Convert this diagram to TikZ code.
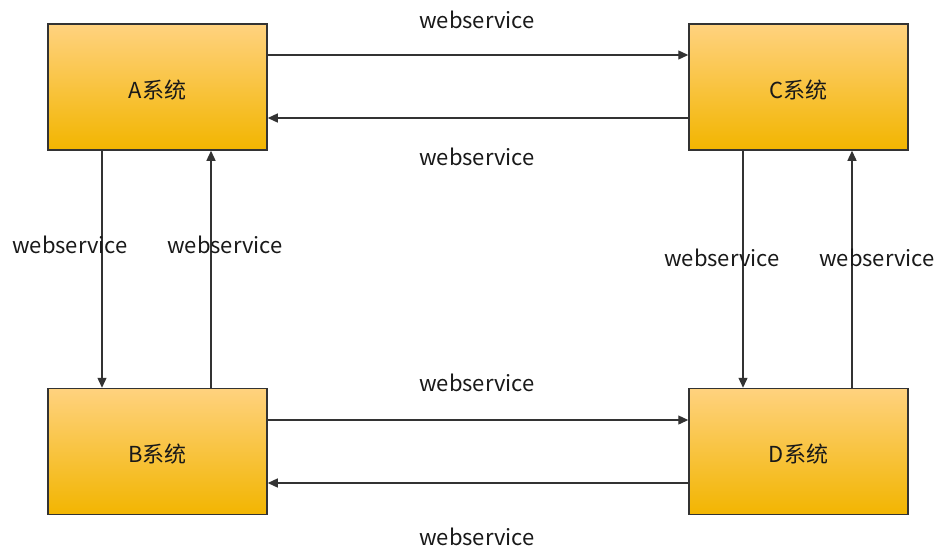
\documentclass[tikz,border=0pt]{standalone}
\usepackage{fontspec}
\setmainfont{Noto Sans CJK SC}
\usetikzlibrary{arrows.meta}
\definecolor{boxtop}{HTML}{FFD27F}
\definecolor{boxbot}{HTML}{F2B500}
\definecolor{edge}{HTML}{333333}
\tikzset{
  sysbox/.style={draw=edge, line width=1.5pt, top color=boxtop, bottom color=boxbot, minimum width=219pt, minimum height=126pt, inner sep=0pt, text=black!90},
  boxtxt/.style={font=\fontsize{22pt}{24pt}\selectfont, text=black!90, inner sep=0pt},
  conn/.style={draw=edge, line width=1.3pt, -{Triangle[length=10pt,width=9pt]}},
  lbl/.style={font=\fontsize{22pt}{24pt}\selectfont, text=black!90, inner sep=0pt}
}
\begin{document}
\begin{tikzpicture}[x=1pt,y=-1pt]
\useasboundingbox (0,0) rectangle (941,552);
\node[sysbox] (A) at (157.5,87) {};
\node[sysbox] (C) at (798.5,87) {};
\node[sysbox] (B) at (157.5,451.5) {};
\node[sysbox] (D) at (798.5,451.5) {};
\node[boxtxt] (At) at (157.5,90) {A系统};
\node[boxtxt] (Ct) at (798.5,90) {C系统};
\node[boxtxt] (Bt) at (157.5,454.5) {B系统};
\node[boxtxt] (Dt) at (798.5,454.5) {D系统};
% horizontal
\draw[conn] (A.east |- 0,55) -- (C.west |- 0,55);
\draw[conn] (C.west |- 0,118) -- (A.east |- 0,118);
\draw[conn] (B.east |- 0,420) -- (D.west |- 0,420);
\draw[conn] (D.west |- 0,483) -- (B.east |- 0,483);
% vertical
\draw[conn] (A.south -| 102,0) -- (B.north -| 102,0);
\draw[conn] (B.north -| 211,0) -- (A.south -| 211,0);
\draw[conn] (C.south -| 743,0) -- (D.north -| 743,0);
\draw[conn] (D.north -| 852,0) -- (C.south -| 852,0);
% labels
\node[lbl] (l1) at (477,20) {webservice};
\node[lbl] (l2) at (477,157) {webservice};
\node[lbl] (l3) at (477,383) {webservice};
\node[lbl] (l4) at (477,537) {webservice};
\node[lbl] (l5) at (70,245) {webservice};
\node[lbl] (l6) at (225,245) {webservice};
\node[lbl] (l7) at (722,258) {webservice};
\node[lbl] (l8) at (877,258) {webservice};
\end{tikzpicture}
\end{document}
